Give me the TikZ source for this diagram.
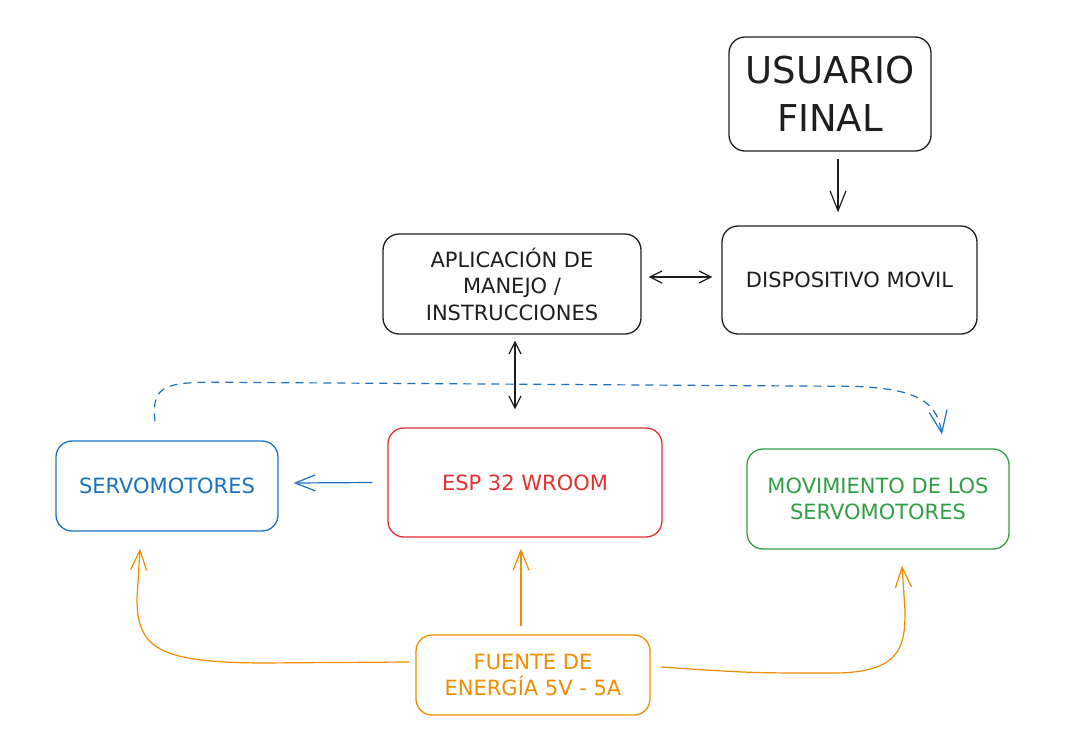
\documentclass[tikz,border=0pt]{standalone}
\usepackage{fontspec}
\setmainfont{DejaVu Sans}
\usetikzlibrary{arrows.meta,calc}
\definecolor{ink}{HTML}{1E1E1E}
\definecolor{eblue}{HTML}{1971C2}
\definecolor{ered}{HTML}{E03131}
\definecolor{egreen}{HTML}{2F9E44}
\definecolor{eorange}{HTML}{F08C00}
\tikzset{
  box/.style={draw, rounded corners=16pt, line width=1.3pt, align=center, inner sep=0pt},
  lbl/.style={font=\fontsize{21}{26.5}\selectfont},
  arr/.style={line width=1.2pt, -{Straight Barb[length=20pt,width=16pt,line width=1.2pt]}},
  darr/.style={line width=1.2pt, {Straight Barb[length=12pt,width=12pt,line width=1.2pt]}-{Straight Barb[length=12pt,width=12pt,line width=1.2pt]}}
}
\begin{document}
\begin{tikzpicture}[x=1pt,y=-1pt]
\useasboundingbox (0,0) rectangle (1092,750);
% nodes
\node[box, ink, minimum width=202pt, minimum height=114pt, font=\fontsize{37}{48}\selectfont] (usr) at (830,94) {USUARIO\\FINAL};
\node[box, ink, lbl, minimum width=255pt, minimum height=108pt] (dev) at (849.5,280) {DISPOSITIVO MOVIL};
\node[box, ink, lbl, minimum width=258pt, minimum height=100pt] (app) at (512,284) {APLICACIÓN DE\\MANEJO /\\INSTRUCCIONES};
\node[box, eblue, lbl, minimum width=222pt, minimum height=90pt] (servo) at (167,486) {SERVOMOTORES};
\node[box, ered, lbl, minimum width=274pt, minimum height=109pt] (esp) at (525,482.5) {ESP 32 WROOM};
\node[box, egreen, lbl, minimum width=262pt, minimum height=100pt] (mov) at (878,499) {MOVIMIENTO DE LOS\\SERVOMOTORES};
\node[box, eorange, lbl, minimum width=234pt, minimum height=80pt] (fuente) at (533,675) {FUENTE DE\\ENERGÍA 5V - 5A};
% connectors
\draw[arr, ink] ([xshift=8pt,yshift=-7pt]usr.south) -- ([xshift=-11.5pt,yshift=13pt]dev.north);
\draw[darr, ink] ([xshift=7pt,yshift=7pt]app.east) -- ([xshift=-9pt,yshift=3pt]dev.west);
\draw[darr, ink] ([xshift=3pt,yshift=-6pt]app.south) -- ([xshift=-10pt,yshift=18pt]esp.north);
\draw[arr, eblue] ([xshift=-15pt]esp.west) -- ([xshift=15pt,yshift=3pt]servo.east);
\coordinate (ds) at ([xshift=-12pt,yshift=19pt]servo.north);
\coordinate (de) at ([xshift=64pt,yshift=14pt]mov.north);
\draw[eblue, dashed, dash pattern=on 8pt off 6pt, line width=1.2pt, -{Straight Barb[length=22pt,width=18pt,line width=1.2pt]}] (ds) .. controls ($(ds)+(-4,-38)$) and ($(ds)+(10,-40)$) .. ($(ds)+(80,-39)$) -- ($(de)+(-90,-48)$) .. controls ($(de)+(-20,-46)$) and ($(de)+(-5,-30)$) .. (de);
% orange
\coordinate (ls) at ([xshift=-6pt,yshift=13pt]fuente.west);
\coordinate (le) at ([xshift=-27pt,yshift=-17pt]servo.south);
\draw[arr, eorange] (ls) -- ($(ls)+(-150,1)$) .. controls ($(ls)+(-250,0)$) and ($(le)+(-3,100)$) .. ($(le)+(-3,50)$) -- (le);
\draw[arr, eorange] ([xshift=-12pt,yshift=8pt]fuente.north) -- ([xshift=-4pt,yshift=-11pt]esp.south);
\coordinate (rs) at ([xshift=10pt,yshift=8pt]fuente.east);
\coordinate (re) at ([xshift=24pt,yshift=-16pt]mov.south);
\draw[arr, eorange] (rs) .. controls ($(rs)+(90,6)$) .. ($(rs)+(170,6)$) .. controls ($(re)+(0,108)$) and ($(re)+(3,80)$) .. ($(re)+(3,45)$) -- (re);
\end{tikzpicture}
\end{document}
